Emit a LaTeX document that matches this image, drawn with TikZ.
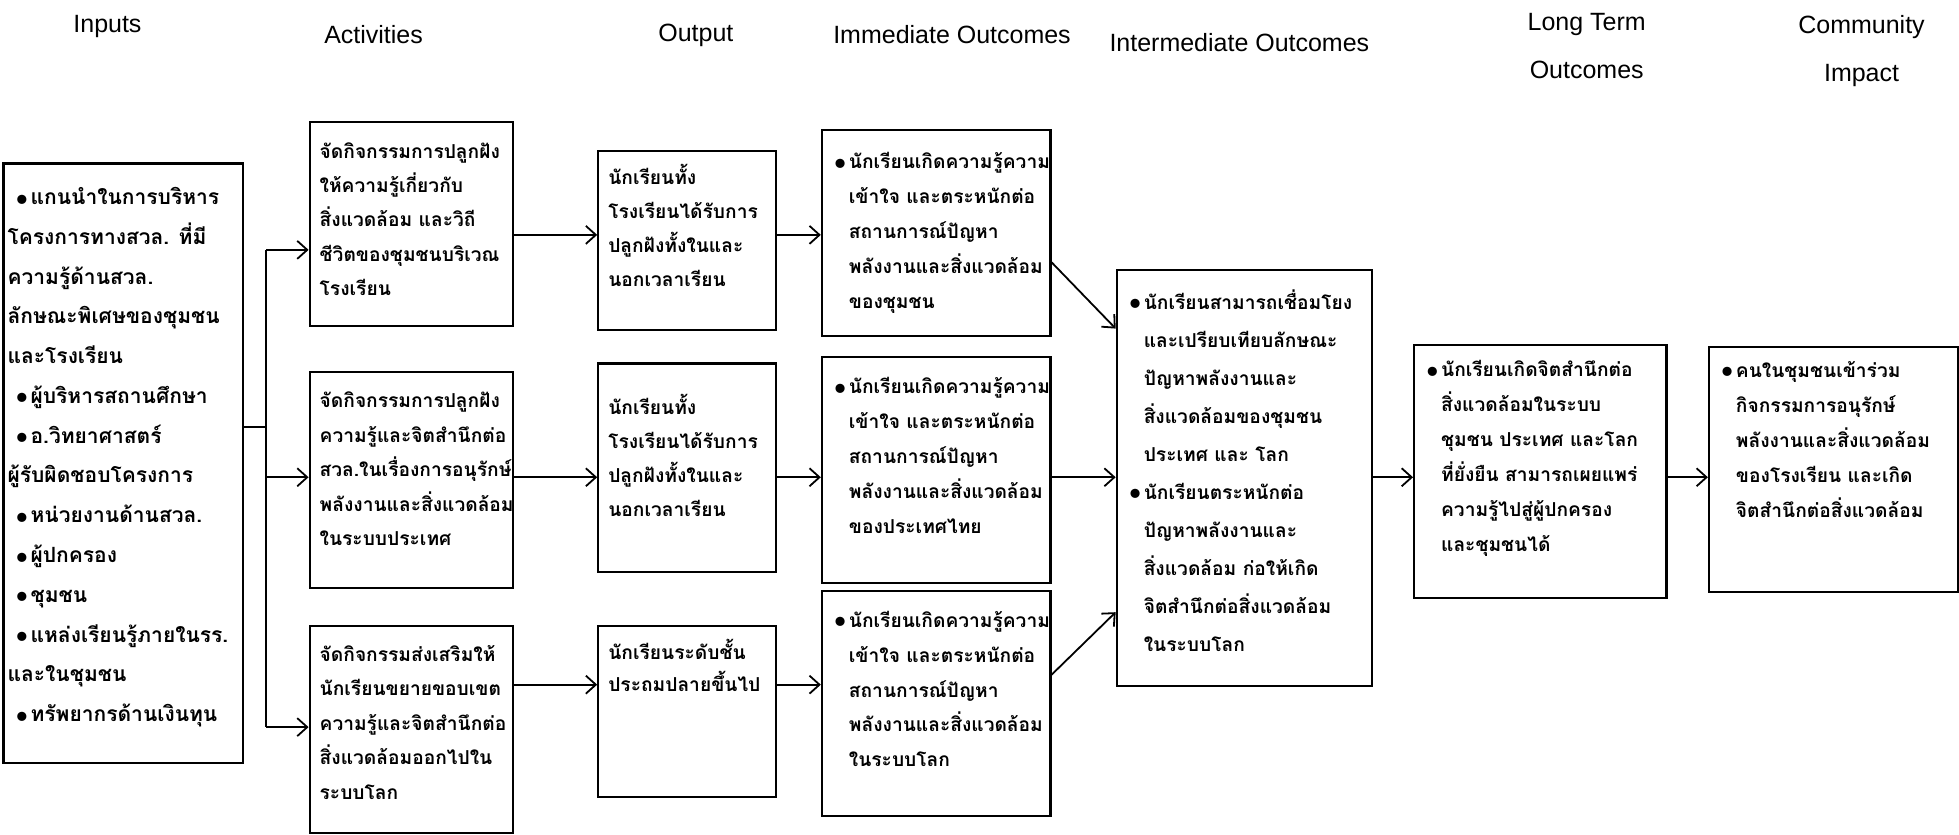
\documentclass[tikz,border=0pt]{standalone}
\usepackage{fontspec}
\setmainfont{Liberation Sans}
\newfontfamily\thaifont[Script=Thai]{Loma}
\newfontfamily\symfont{DejaVu Sans}
\usetikzlibrary{arrows.meta,positioning}
\tikzset{>={Straight Barb[length=5pt,width=9pt]}}
\newlength\unitpx
\setlength\unitpx{0.625pt}
\newlength\bulw
\setlength\bulw{8.5pt}
\newcommand{\bul}{\makebox[\bulw][l]{\raisebox{-2.3pt}{\symfont\fontsize{13}{13}\selectfont •}}}
\newcommand{\ind}{\hspace*{\bulw}}
% [size] width, height, top pad (units), line spacing, lines
\newcommand{\cell}[6][9.6]{\parbox[t][#3\unitpx][t]{#2\unitpx}{\vspace*{#4\unitpx}%
  \fontsize{#1}{#5}\selectfont\begin{tabular}[t]{@{}l@{}}#6\end{tabular}}}

\begin{document}
\begin{tikzpicture}[x=0.625pt,y=-0.625pt,
  blk/.style={draw,line width=1.1pt,anchor=north west,inner xsep=5pt,inner ysep=0pt,font=\thaifont\bfseries},
  hdr/.style={font=\fontsize{12.5}{15}\selectfont,align=center},
  conn/.style={line width=0.9pt}]
  \useasboundingbox (0,0) rectangle (1568,668);

  % column titles
  \node[hdr] (hInp) at (86,21) {Inputs};
  \node[hdr] (hAct) at (299,28) {Activities};
  \node[hdr] (hOut) at (557,28) {Output};
  \node[hdr] (hImm) at (762,28) {Immediate Outcomes};
  \node[hdr] (hMid) at (992,34) {Intermediate Outcomes};
  \node[hdr] (hLong) at (1270,37) {Long Term\\[9pt]Outcomes};
  \node[hdr] (hComm) at (1490,41) {Community\\[9pt]Impact};

  % inputs
  \node[blk,inner xsep=2pt] (inp) at (2,130) {\cell[10.5]{185}{480}{10.5}{19.9pt}{%
    \hspace*{3pt}\bul แกนนำในการบริหาร\\
    โครงการทางสวล. ที่มี\\
    ความรู้ด้านสวล.\\
    ลักษณะพิเศษของชุมชน\\
    และโรงเรียน\\
    \hspace*{3pt}\bul ผู้บริหารสถานศึกษา\\
    \hspace*{3pt}\bul อ.วิทยาศาสตร์\\
    ผู้รับผิดชอบโครงการ\\
    \hspace*{3pt}\bul หน่วยงานด้านสวล.\\
    \hspace*{3pt}\bul ผู้ปกครอง\\
    \hspace*{3pt}\bul ชุมชน\\
    \hspace*{3pt}\bul แหล่งเรียนรู้ภายในรร.\\
    และในชุมชน\\
    \hspace*{3pt}\bul ทรัพยากรด้านเงินทุน}};

  % activities
  \node[blk] (act1) at (247,97) {\cell{147}{163}{9.4}{17.2pt}{%
    จัดกิจกรรมการปลูกฝัง\\ ให้ความรู้เกี่ยวกับ\\ สิ่งแวดล้อม และวิถี\\ ชีวิตของชุมชนบริเวณ\\ โรงเรียน}};
  \node[blk] (act2) at (247,297) {\cell{147}{173}{9.4}{17.2pt}{%
    จัดกิจกรรมการปลูกฝัง\\ ความรู้และจิตสำนึกต่อ\\ สวล.ในเรื่องการอนุรักษ์\\ พลังงานและสิ่งแวดล้อม\\ ในระบบประเทศ}};
  \node[blk] (act3) at (247,500) {\cell{147}{166}{9.4}{17.2pt}{%
    จัดกิจกรรมส่งเสริมให้\\ นักเรียนขยายขอบเขต\\ ความรู้และจิตสำนึกต่อ\\ สิ่งแวดล้อมออกไปใน\\ ระบบโลก}};

  % outputs
  \node[blk] (out1) at (478,120) {\cell{126}{143}{7.4}{17pt}{%
    นักเรียนทั้ง\\ โรงเรียนได้รับการ\\ ปลูกฝังทั้งในและ\\ นอกเวลาเรียน}};
  \node[blk] (out2) at (478,290) {\cell{126}{167}{22}{17pt}{%
    นักเรียนทั้ง\\ โรงเรียนได้รับการ\\ ปลูกฝังทั้งในและ\\ นอกเวลาเรียน}};
  \node[blk] (out3) at (478,500) {\cell{126}{137}{9.4}{16pt}{%
    นักเรียนระดับชั้น\\ ประถมปลายขึ้นไป}};

  % immediate outcomes
  \node[blk] (imm1) at (657,103) {\cell{167}{165}{11.4}{17.5pt}{%
    \bul นักเรียนเกิดความรู้ความ\\ \ind เข้าใจ และตระหนักต่อ\\ \ind สถานการณ์ปัญหา\\ \ind พลังงานและสิ่งแวดล้อม\\ \ind ของชุมชน}};
  \node[blk] (imm2) at (657,285) {\cell{167}{181}{9.4}{17.5pt}{%
    \bul นักเรียนเกิดความรู้ความ\\ \ind เข้าใจ และตระหนักต่อ\\ \ind สถานการณ์ปัญหา\\ \ind พลังงานและสิ่งแวดล้อม\\ \ind ของประเทศไทย}};
  \node[blk] (imm3) at (657,472) {\cell{167}{180}{9.4}{17.5pt}{%
    \bul นักเรียนเกิดความรู้ความ\\ \ind เข้าใจ และตระหนักต่อ\\ \ind สถานการณ์ปัญหา\\ \ind พลังงานและสิ่งแวดล้อม\\ \ind ในระบบโลก}};

  % intermediate, long term, impact
  \node[blk] (mid) at (893,215) {\cell{188}{333}{10.4}{19pt}{%
    \bul นักเรียนสามารถเชื่อมโยง\\ \ind และเปรียบเทียบลักษณะ\\ \ind ปัญหาพลังงานและ\\ \ind สิ่งแวดล้อมของชุมชน\\ \ind ประเทศ และ โลก\\
    \bul นักเรียนตระหนักต่อ\\ \ind ปัญหาพลังงานและ\\ \ind สิ่งแวดล้อม ก่อให้เกิด\\ \ind จิตสำนึกต่อสิ่งแวดล้อม\\ \ind ในระบบโลก}};
  \node[blk] (long) at (1131,275) {\cell{186}{203}{6}{17.5pt}{%
    \bul นักเรียนเกิดจิตสำนึกต่อ\\ \ind สิ่งแวดล้อมในระบบ\\ \ind ชุมชน ประเทศ และโลก\\ \ind ที่ยั่งยืน สามารถเผยแพร่\\ \ind ความรู้ไปสู่ผู้ปกครอง\\ \ind และชุมชนได้}};
  \node[blk] (comm) at (1367,277) {\cell{183}{196}{4.4}{17.5pt}{%
    \bul คนในชุมชนเข้าร่วม\\ \ind กิจกรรมการอนุรักษ์\\ \ind พลังงานและสิ่งแวดล้อม\\ \ind ของโรงเรียน และเกิด\\ \ind จิตสำนึกต่อสิ่งแวดล้อม}};

  % spine from inputs
  \coordinate (spin) at (213,342);
  \coordinate (sp1) at (213,200);
  \coordinate (sp2) at (213,382);
  \coordinate (sp3) at (213,582);
  \draw[conn] (inp.east |- spin) -- (spin);
  \draw[conn] (sp1) -- (sp3);
  \draw[conn,->] (sp1) -- (act1.west |- sp1);
  \draw[conn,->] (sp2) -- (act2.west |- sp2);
  \draw[conn,->] (sp3) -- (act3.west |- sp3);

  % rows
  \coordinate (r1) at (0,188);
  \coordinate (r2) at (0,382);
  \coordinate (r3) at (0,548);
  \draw[conn,->] (act1.east |- r1) -- (out1.west |- r1);
  \draw[conn,->] (act2.east |- r2) -- (out2.west |- r2);
  \draw[conn,->] (act3.east |- r3) -- (out3.west |- r3);
  \draw[conn,->] (out1.east |- r1) -- (imm1.west |- r1);
  \draw[conn,->] (out2.east |- r2) -- (imm2.west |- r2);
  \draw[conn,->] (out3.east |- r3) -- (imm3.west |- r3);

  % into intermediate
  \coordinate (q1) at (0,210);
  \coordinate (q3) at (0,540);
  \coordinate (m1) at (0,263);
  \coordinate (m3) at (0,490);
  \draw[conn,->] (imm1.east |- q1) -- (mid.west |- m1);
  \draw[conn,->] (imm2.east |- r2) -- (mid.west |- r2);
  \draw[conn,->] (imm3.east |- q3) -- (mid.west |- m3);
  \draw[conn,->] (mid.east |- r2) -- (long.west |- r2);
  \draw[conn,->] (long.east |- r2) -- (comm.west |- r2);
\end{tikzpicture}
\end{document}
